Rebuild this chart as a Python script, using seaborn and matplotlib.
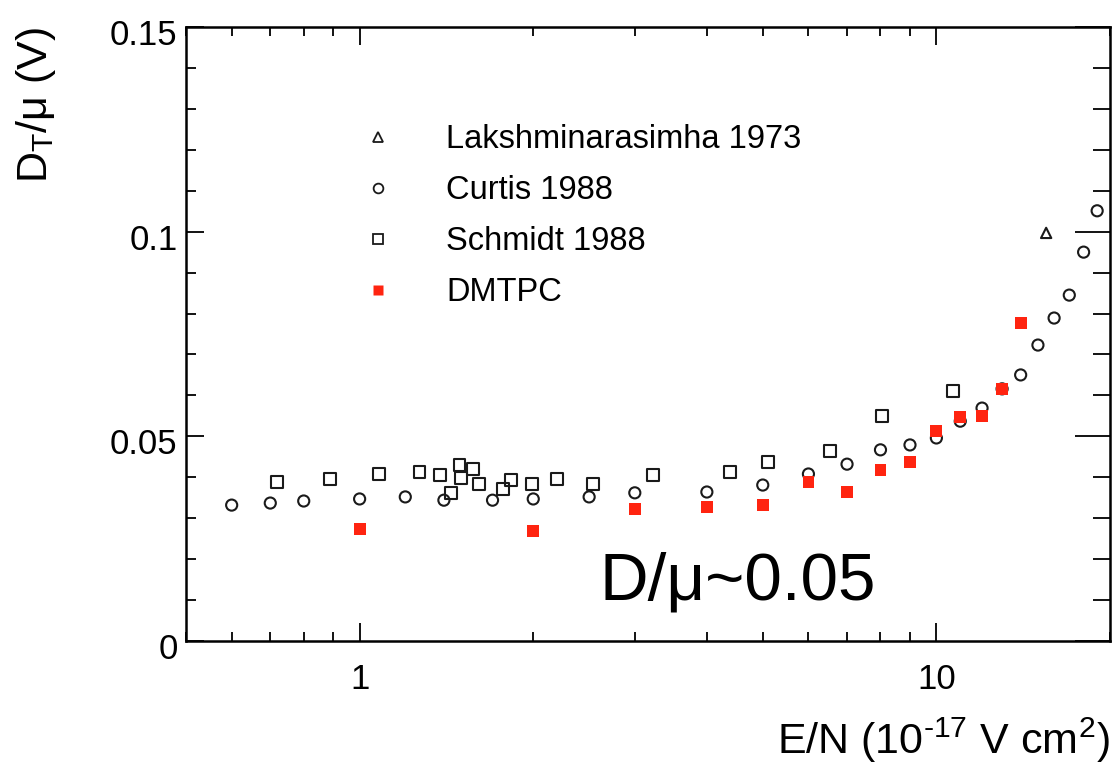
import numpy as np
import pandas as pd
import matplotlib
matplotlib.use("Agg")
import matplotlib.pyplot as plt
from matplotlib.lines import Line2D
from matplotlib.ticker import FixedLocator, FixedFormatter, NullFormatter
from matplotlib.transforms import ScaledTranslation
import seaborn as sns

# E/N in 1e-17 V cm^2, D_T/mu in V
lak_en = [15.5]
lak_d = [0.0997]

curtis_en = [0.6, 0.7, 0.8, 1.0, 1.2, 1.4, 1.7, 2.0, 2.5, 3.0, 4.0, 5.0, 6.0, 7.0,
             8.0, 9.0, 10.0, 11.0, 12.0, 13.0, 14.0, 15.0, 16.0, 17.0, 18.0, 19.0]
curtis_d = [0.0332, 0.0337, 0.0342, 0.0347, 0.0352, 0.0344, 0.0344, 0.0347, 0.0352,
            0.0362, 0.0364, 0.0381, 0.0408, 0.0432, 0.0467, 0.0479, 0.0496, 0.0537,
            0.0569, 0.0616, 0.0650, 0.0723, 0.0789, 0.0845, 0.0950, 0.1051]

schmidt_en = [0.72, 0.89, 1.08, 1.27, 1.38, 1.44, 1.49, 1.50, 1.57, 1.61, 1.77, 1.83,
              1.99, 2.20, 2.54, 3.23, 4.38, 5.11, 6.53, 8.06, 10.7]
schmidt_d = [0.0388, 0.0396, 0.0408, 0.0413, 0.0406, 0.0362, 0.0430, 0.0398, 0.0420,
             0.0384, 0.0371, 0.0393, 0.0384, 0.0396, 0.0384, 0.0406, 0.0413, 0.0437,
             0.0464, 0.0550, 0.0611]

dmtpc_en = [1.0, 2.0, 3.0, 4.0, 5.0, 6.0, 7.0, 8.0, 9.0, 10.0, 11.0, 12.0, 13.0, 14.0]
dmtpc_d = [0.0274, 0.0269, 0.0323, 0.0327, 0.0332, 0.0388, 0.0364, 0.0418, 0.0437,
           0.0513, 0.0547, 0.0550, 0.0616, 0.0777]

series_labels = ["Lakshminarasimha 1973", "Curtis 1988", "Schmidt 1988", "DMTPC"]

x_ticks = [1, 10]
x_tick_labels = ["1", "10"]
x_minor = [0.5, 0.6, 0.7, 0.8, 0.9, 2, 3, 4, 5, 6, 7, 8, 9, 20]
y_ticks = [0, 0.05, 0.1, 0.15]
y_tick_labels = ["0", "0.05", "0.1", "0.15"]
y_minor = [i / 100 for i in range(16)]

sns.set_theme(style="ticks")
plt.rcParams["font.family"] = ["Liberation Sans", "DejaVu Sans"]
plt.rcParams["mathtext.default"] = "regular"
plt.rcParams["text.color"] = "black"
plt.rcParams["axes.labelcolor"] = "black"
plt.rcParams["xtick.color"] = "black"
plt.rcParams["ytick.color"] = "black"

RED = "#ff2410"
INK = "#1a1a1a"

fig = plt.figure(figsize=(11.13, 7.65), dpi=100)
ax = fig.add_axes([186 / 1113, 124 / 765, 924 / 1113, 614 / 765])

sns.scatterplot(x=curtis_en, y=curtis_d, ax=ax, marker="o", s=64,
                facecolor="none", edgecolor=INK, linewidth=1.5, zorder=3)
sns.scatterplot(x=schmidt_en, y=schmidt_d, ax=ax, marker="s", s=74,
                facecolor="none", edgecolor=INK, linewidth=1.5, zorder=3)
sns.scatterplot(x=lak_en, y=lak_d, ax=ax, marker="^", s=55,
                facecolor="none", edgecolor=INK, linewidth=1.5, zorder=3)
sns.scatterplot(x=dmtpc_en, y=dmtpc_d, ax=ax, marker="s", s=72,
                color=RED, edgecolor="none", linewidth=0, zorder=4)

ax.set_xscale("log")
ax.set_xlim(0.5, 20)
ax.set_ylim(0, 0.15)

ax.xaxis.set_major_locator(FixedLocator(x_ticks))
ax.xaxis.set_major_formatter(FixedFormatter(x_tick_labels))
ax.xaxis.set_minor_locator(FixedLocator(x_minor))
ax.xaxis.set_minor_formatter(NullFormatter())
ax.yaxis.set_major_locator(FixedLocator(y_ticks))
ax.yaxis.set_major_formatter(FixedFormatter(y_tick_labels))
ax.yaxis.set_minor_locator(FixedLocator(y_minor))

for side in ax.spines.values():
    side.set_linewidth(1.8)
    side.set_color("black")

ax.tick_params(axis="x", which="both", direction="in", top=True, bottom=True,
               labelsize=25, pad=16, width=1.3)
ax.tick_params(axis="x", which="major", length=13)
ax.tick_params(axis="x", which="minor", length=6.5)
ax.tick_params(axis="y", which="both", direction="in", left=True, right=False,
               labelsize=25, pad=6, width=1.3)
ax.tick_params(axis="y", which="major", length=13)
ax.tick_params(axis="y", which="minor", length=7)

# y tick labels sit slightly below their ticks
shift = ScaledTranslation(0, -5 / 100, fig.dpi_scale_trans)
for lab in ax.yaxis.get_majorticklabels():
    lab.set_transform(lab.get_transform() + shift)

# longer ticks along the right-hand frame
rax = ax.twinx()
rax.set_ylim(ax.get_ylim())
rax.yaxis.set_major_locator(FixedLocator(y_ticks))
rax.yaxis.set_minor_locator(FixedLocator(y_minor))
rax.tick_params(axis="y", which="both", direction="in", labelright=False, width=1.3)
rax.tick_params(axis="y", which="major", length=25)
rax.tick_params(axis="y", which="minor", length=12)
rax.grid(False)
for side in rax.spines.values():
    side.set_visible(False)

ax.set_xlabel("E/N (10$^{\u201017}$ V cm$^{2}$)", fontsize=31, loc="right")
ax.xaxis.set_label_coords(1.0, -0.122)
ax.set_ylabel(r"D$_{T}$/μ (V)", fontsize=31, loc="top")
ax.yaxis.set_label_coords(-0.139, 1.0)

handles = [
    Line2D([], [], linestyle="none", marker="^", markersize=6.5, markerfacecolor="none",
           markeredgecolor=INK, markeredgewidth=1.3),
    Line2D([], [], linestyle="none", marker="o", markersize=7, markerfacecolor="none",
           markeredgecolor=INK, markeredgewidth=1.3),
    Line2D([], [], linestyle="none", marker="s", markersize=7, markerfacecolor="none",
           markeredgecolor=INK, markeredgewidth=1.3),
    Line2D([], [], linestyle="none", marker="s", markersize=7, markerfacecolor=RED,
           markeredgecolor="none"),
]
ax.legend(handles, series_labels, loc="upper left", bbox_to_anchor=(0.190, 0.842),
          frameon=False, fontsize=23.5, handlelength=1.0, handletextpad=1.585,
          labelspacing=0.615, borderpad=0, borderaxespad=0)

ax.text(0.448, 0.067, "D/μ~0.05", transform=ax.transAxes, fontsize=48.5,
        ha="left", va="baseline", color="black")

fig.savefig("out.png", dpi=100, facecolor="white")
